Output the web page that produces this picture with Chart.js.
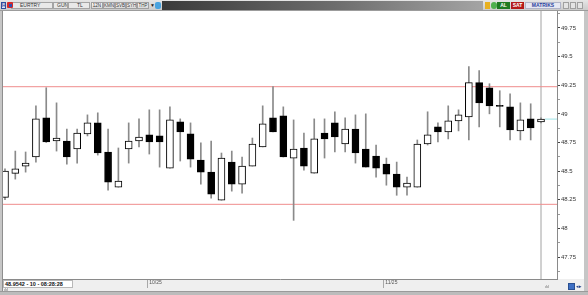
<!DOCTYPE html>
<html><head><meta charset="utf-8">
<script src="https://cdn.jsdelivr.net/npm/chart.js@4.4.0/dist/chart.umd.min.js"></script>
<style>
html,body{margin:0;padding:0;width:588px;height:295px;overflow:hidden;background:#c6c6c6;font-family:"Liberation Sans",Arial,sans-serif;}
.b{position:absolute;box-sizing:border-box;white-space:nowrap;overflow:hidden;}
#tb{position:absolute;left:0;top:0;width:588px;height:11px;background:linear-gradient(#e6e6e6,#cbcbcb);border-bottom:1px solid #9c9c9c;box-sizing:border-box;}
.fld{top:2px;height:7px;background:#e9e9e9;border:1px solid #a4a4a4;font-size:5px;line-height:5px;color:#333;}
.btn{top:2px;height:7px;background:linear-gradient(#fafafa,#d8d8d8);border:1px solid #a0a0a0;font-size:4.5px;line-height:5px;color:#333;text-align:center;}
#cv{position:absolute;left:3px;top:11px;}
</style></head>
<body>
<div id="tb">
  <div class="b" style="left:1px;top:2px;width:5px;height:7px;border:1px solid #2c4f9e;background:#dfe7f7;color:#2c4f9e;font-size:5px;font-weight:bold;text-align:center;line-height:5px">H</div>
  <div class="b fld" style="left:11px;width:42px;padding-left:8px">EURTRY</div>
  <div class="b" style="left:7px;top:2px;width:6px;height:6px;background:#d42a2a;border-radius:1px"></div>
  <div class="b" style="left:9px;top:4px;width:3px;height:3px;background:#3050b0"></div>
  <div class="b fld" style="left:53px;width:15px;padding-left:3px">GUN</div>
  <div class="b fld" style="left:68px;width:22px;padding-left:8px">TL</div>
  <div class="b btn" style="left:91px;width:12px">12N</div>
  <div class="b btn" style="left:103px;width:12px">KMN</div>
  <div class="b btn" style="left:115px;width:11px">SVB</div>
  <div class="b btn" style="left:126px;width:11px">SYH</div>
  <div class="b btn" style="left:137px;width:12px">THP</div>
  <div class="b" style="left:150px;top:2px;width:5px;height:7px;font-size:5px;line-height:7px;color:#222">▼</div>
  <div class="b" style="left:155px;top:2px;width:6px;height:7px;background:#4aa3df;border-radius:2px"></div>
  <div class="b" style="left:162px;top:1px;width:321px;height:9px;background:linear-gradient(to right,#3a3a3a,#6e6e6e 55%,#a4a4a4)"></div>
  <div class="b" style="left:485px;top:2px;width:5px;height:7px;background:#e8b020"></div>
  <div class="b" style="left:491px;top:2px;width:6px;height:7px;background:#4fb04f;border-radius:3px"></div>
  <div class="b" style="left:497px;top:2px;width:13px;height:7px;background:#1f7a22;color:#fff;font-size:5px;line-height:7px;text-align:center;font-weight:bold">AL</div>
  <div class="b" style="left:511px;top:2px;width:13px;height:7px;background:#b41a1a;color:#fff;font-size:5px;line-height:7px;text-align:center;font-weight:bold">SAT</div>
  <div class="b" style="left:525px;top:2px;width:36px;height:7px;background:#e6e8f2;border:1px solid #b0b4c8;color:#2a3f9a;font-size:5px;line-height:5px;text-align:center;font-weight:bold">MATRİKS</div>
  <div class="b" style="left:563px;top:2px;width:6px;height:7px;border:1px solid #a0a0a0;background:#e4e4e4"></div>
  <div class="b" style="left:570px;top:2px;width:6px;height:7px;border:1px solid #a0a0a0;background:#e4e4e4"></div>
  <div class="b" style="left:577px;top:2px;width:6px;height:7px;border:1px solid #a0a0a0;background:#e4e4e4"></div>
</div>
<div class="b" style="left:2px;top:11px;width:1px;height:280px;background:#8e8e8e"></div>
<canvas id="cv" width="581" height="280"></canvas>
<div class="b" style="left:3px;top:280px;width:70px;height:8px;background:#fff;border:1px solid #b8b8b8;font-size:5.5px;line-height:6px;font-weight:bold;color:#111;padding-left:1px">48.9542 - 10 - 08:28:28</div>
<div class="b" style="left:4px;top:288px;width:7px;height:3px;font-size:4px;line-height:3px;color:#666">ılıl</div>
<div class="b" style="left:545px;top:285px;width:9px;height:4px;font-size:4px;line-height:4px;color:#666">ılıl</div>
<div class="b" style="left:568px;top:283px;width:7px;height:7px;background:#3d6fc4;border:1px solid #2a4f90"></div>
<div class="b" style="left:576px;top:283px;width:8px;height:7px;font-size:5px;line-height:7px;color:#1f3f8a">◂▸</div>
<div class="b" style="left:0;top:291px;width:588px;height:4px;background:#bcbcbc;border-top:1px solid #9a9a9a"></div>
<script>
// ---- data ----
const opens  = [48.27,48.48,48.544,48.623,48.965,48.763,48.763,48.693,48.825,48.921,48.667,48.36,48.693,48.763,48.816,48.807,48.526,48.93,48.825,48.596,48.491,48.246,48.579,48.386,48.544,48.711,48.965,48.982,48.614,48.702,48.482,48.833,48.921,48.737,48.868,48.693,48.632,48.561,48.474,48.36,48.36,48.737,48.886,48.842,48.939,48.974,49.272,49.228,49.075,49.061,48.851,48.956,48.93];
const highs  = [48.52,48.675,48.667,49.07,49.228,49.096,48.868,48.868,48.991,49.009,48.868,48.702,48.921,48.956,49.035,49.035,49.061,48.956,48.921,48.746,48.763,48.658,48.675,48.623,48.789,49.07,49.237,49.061,48.947,48.833,48.956,48.956,49.018,48.965,48.991,49.0,48.728,48.614,48.579,48.447,48.772,49.018,48.921,49.07,49.035,49.412,49.377,49.263,49.202,49.175,49.096,49.088,48.965];
const lows   = [48.25,48.43,48.491,48.579,48.75,48.675,48.561,48.57,48.807,48.64,48.333,48.36,48.57,48.711,48.649,48.535,48.526,48.588,48.535,48.386,48.263,48.246,48.325,48.307,48.544,48.711,48.842,48.623,48.07,48.509,48.482,48.614,48.667,48.667,48.57,48.535,48.447,48.377,48.289,48.289,48.36,48.728,48.754,48.781,48.851,48.772,48.886,49.0,48.886,48.772,48.772,48.772,48.92];
const closes = [48.5,48.52,48.57,48.956,48.754,48.789,48.623,48.833,48.921,48.658,48.404,48.412,48.763,48.798,48.754,48.754,48.947,48.842,48.605,48.491,48.298,48.614,48.386,48.544,48.737,48.912,48.842,48.623,48.693,48.544,48.781,48.781,48.798,48.868,48.658,48.535,48.526,48.474,48.36,48.395,48.737,48.816,48.842,48.939,48.991,49.272,49.096,49.07,49.065,48.86,48.947,48.877,48.954];
const levelLines = [49.237, 48.21];         // red horizontal levels
const lastPrice = 48.9542;                   // cyan marker
const cursorIndex = 52;                       // crosshair bar
const dateTickPos = [13.8, 36.7];
const dateLabels = ['10/25', '11/25'];
const yTickLabels = ['47.75','48','48.25','48.5','48.75','49','49.25','49.5','49.75'];

// ---- derived ----
const yTickValues = yTickLabels.map(Number);
const xIdx = opens.map((_, i) => i);
const X_MIN = -0.194, X_MAX = 53.552, Y_MIN = 47.558, Y_MAX = 49.898;

const yTicks = [{value: yTickValues[0] - 0.125}];
yTickValues.forEach((v, i) => {
  yTicks.push({value: v});
  if (i < yTickValues.length - 1) yTicks.push({value: (v + yTickValues[i + 1]) / 2});
});
yTicks.push({value: yTickValues[yTickValues.length - 1] + 0.125});

const bgPlugin = {
  id: 'bg',
  beforeDraw(chart) {
    const {ctx, chartArea, width, height} = chart;
    ctx.save();
    ctx.fillStyle = '#ffffff';
    ctx.fillRect(0, 0, width, height);
    ctx.fillStyle = '#efefef';
    ctx.fillRect(0, chartArea.bottom, width, height - chartArea.bottom);
    ctx.restore();
  }
};

new Chart(document.getElementById('cv'), {
  type: 'bar',
  data: {
    datasets: [
      {
        type: 'bar', label: 'body', order: 0, grouped: false,
        data: xIdx.map(i => ({x: i, y: [opens[i], closes[i]]})),
        backgroundColor: xIdx.map(i => closes[i] >= opens[i] ? '#ffffff' : '#000000'),
        borderColor: '#000000', borderWidth: 1, borderSkipped: false, barThickness: 7
      },
      {
        type: 'bar', label: 'wick', order: 1, grouped: false,
        data: xIdx.map(i => ({x: i, y: [lows[i], highs[i]]})),
        backgroundColor: '#8a8a8a', borderWidth: 0, barThickness: 1
      },
      ...levelLines.map(v => ({
        type: 'line', order: 2,
        data: [{x: X_MIN, y: v}, {x: X_MAX, y: v}],
        borderColor: '#ef8c8c', borderWidth: 1, pointRadius: 0
      })),
      {
        type: 'line', order: 2,
        data: [{x: 52.39, y: lastPrice}, {x: X_MAX, y: lastPrice}],
        borderColor: '#9fe3e6', borderWidth: 1, pointRadius: 0
      },
      {
        type: 'line', order: 3,
        data: [{x: cursorIndex, y: Y_MIN}, {x: cursorIndex, y: Y_MAX}],
        borderColor: '#a2a2a2', borderWidth: 1, pointRadius: 0
      }
    ]
  },
  options: {
    responsive: false, animation: false, devicePixelRatio: 1,
    layout: {padding: 0, autoPadding: false},
    plugins: {legend: {display: false}, tooltip: {enabled: false}},
    scales: {
      x: {
        type: 'linear', position: 'bottom', min: X_MIN, max: X_MAX, offset: false,
        afterFit: s => { s.height = 12; s.paddingLeft = 0; s.paddingRight = 0; },
        afterBuildTicks: s => { s.ticks = dateTickPos.map(v => ({value: v})); },
        grid: {offset: false, drawOnChartArea: false, drawTicks: true, tickLength: 9, color: '#a8a8a8'},
        border: {display: true, color: '#8a8a8a'},
        ticks: {
          autoSkip: false, maxRotation: 0, align: 'start', padding: -8, labelOffset: 2,
          font: {size: 5, family: 'Liberation Sans'}, color: '#555',
          callback: (v, i) => dateLabels[i]
        }
      },
      y: {
        type: 'linear', position: 'right', min: Y_MIN, max: Y_MAX, beginAtZero: false,
        afterFit: s => { s.width = 27; s.paddingTop = 0; s.paddingBottom = 0; },
        afterBuildTicks: s => { s.ticks = yTicks.map(t => ({value: t.value})); },
        grid: {
          drawOnChartArea: false, drawTicks: true, tickLength: 3,
          tickColor: c => (c.tick && yTickValues.includes(c.tick.value)) ? '#444' : '#9a9a9a'
        },
        border: {display: true, color: '#8a8a8a'},
        ticks: {
          padding: 1, font: {size: 6, family: 'Liberation Sans'}, color: '#333',
          callback: v => { const k = yTickValues.indexOf(v); return k >= 0 ? yTickLabels[k] : ''; }
        }
      }
    }
  },
  plugins: [bgPlugin]
});
</script>
</body></html>
